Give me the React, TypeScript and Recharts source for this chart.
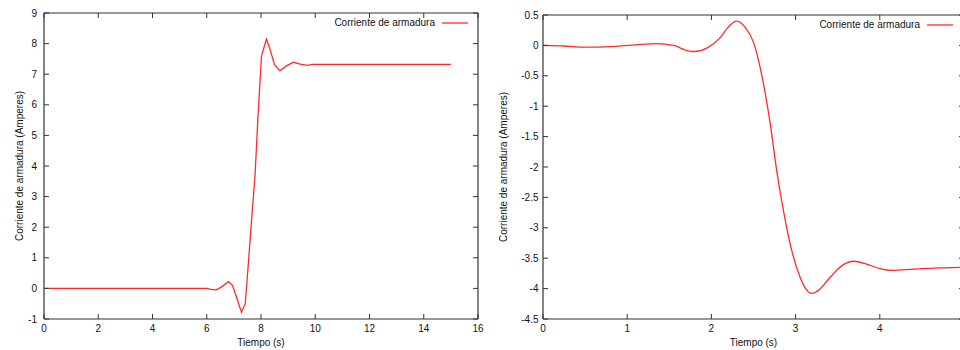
import React from 'react';
import { LineChart, Line, XAxis, YAxis, Legend, ReferenceLine } from 'recharts';

// left panel: step up of armature current
const leftT = [0, 5.6, 6.0, 6.15, 6.35, 6.55, 6.8, 6.95, 7.1, 7.28, 7.42, 7.55, 7.65, 7.78, 7.9, 8.02, 8.2, 8.32, 8.5, 8.7, 8.95, 9.2, 9.45, 9.7, 9.9, 15];
const leftI = [0, 0, 0, -0.03, -0.05, 0.05, 0.22, 0.1, -0.3, -0.78, -0.5, 1.0, 2.2, 3.7, 5.8, 7.6, 8.15, 7.85, 7.3, 7.11, 7.28, 7.39, 7.33, 7.29, 7.32, 7.32];
const leftXTicks = [0, 2, 4, 6, 8, 10, 12, 14, 16];
const leftYTicks = [-1, 0, 1, 2, 3, 4, 5, 6, 7, 8, 9];

// right panel: reversal (x = 5 falls just past the picture edge)
const rightT = [0, 0.25, 0.5, 0.8, 1.1, 1.35, 1.55, 1.7, 1.8, 1.95, 2.1, 2.2, 2.3, 2.4, 2.5, 2.6, 2.7, 2.78, 2.86, 2.95, 3.05, 3.12, 3.19, 3.28, 3.37, 3.5, 3.6, 3.69, 3.85, 4.0, 4.15, 4.4, 4.7, 5.0];
const rightI = [0, -0.01, -0.03, -0.02, 0.01, 0.03, 0.0, -0.08, -0.1, -0.04, 0.12, 0.3, 0.4, 0.3, 0.05, -0.5, -1.3, -2.1, -2.75, -3.35, -3.8, -4.0, -4.08, -4.02, -3.88, -3.68, -3.58, -3.55, -3.6, -3.67, -3.7, -3.68, -3.66, -3.65];
const rightXTicks = [0, 1, 2, 3, 4];
const rightYTicks = [-4.5, -4, -3.5, -3, -2.5, -2, -1.5, -1, -0.5, 0, 0.5];

const SERIES = 'Corriente de armadura';
const YLABEL = 'Corriente de armadura (Amperes)';
const XLABEL = 'Tiempo (s)';

const FONT = '"Liberation Sans", Arial, sans-serif';
const RED = '#ff2a2a';
const AXIS = '#333';
const TICK = 5;
const BOTTOM = 31; // x axis band height

// gnuplot-style inward ticks at the top end of a vertical reference line
const TopTick = (props: any) => {
  const { x1, y1, y2 } = props;
  const top = Math.min(y1, y2);
  return <line x1={x1} x2={x1} y1={top} y2={top + TICK} stroke={AXIS} strokeWidth={1} />;
};

// and at the right end of a horizontal one
const RightTick = (props: any) => {
  const { x1, x2, y1 } = props;
  const right = Math.max(x1, x2);
  return <line x1={right} x2={right - TICK} y1={y1} y2={y1} stroke={AXIS} strokeWidth={1} />;
};

const LegendBox = () => (
  <div style={{ display: 'flex', alignItems: 'center', fontFamily: FONT, fontSize: 10, color: '#111', lineHeight: '12px' }}>
    <span style={{ marginRight: 7 }}>{SERIES}</span>
    <svg width={26} height={4}>
      <line x1={0} y1={2} x2={26} y2={2} stroke={RED} strokeWidth={1.3} />
    </svg>
  </div>
);

interface PanelProps {
  data: { t: number; i: number }[];
  width: number;
  margin: { top: number; right: number; left: number };
  yAxisWidth: number;
  yLabelOffset: number;
  xDomain: [number, number];
  yDomain: [number, number];
  xTicks: number[];
  yTicks: number[];
  yTickMargin: number;
  legendTop: number;
  legendRight: number;
  curve: 'linear' | 'monotone';
}

const axisLine = { stroke: AXIS, strokeWidth: 1.2 };
const tickLine = { stroke: AXIS, strokeWidth: 1 };
const tickStyle = { fontSize: 10, fill: '#111', fontFamily: FONT };

const Panel: React.FC<PanelProps> = (p) => (
  <LineChart width={p.width} height={350} data={p.data} margin={{ ...p.margin, bottom: 0 }}>
    <XAxis
      type="number"
      dataKey="t"
      domain={p.xDomain}
      ticks={p.xTicks}
      interval={0}
      height={BOTTOM}
      tick={tickStyle}
      tickSize={-5}
      tickMargin={11}
      tickLine={tickLine}
      axisLine={axisLine}
      allowDataOverflow
      label={{ value: XLABEL, position: 'insideBottom', offset: 4.5, style: { fontSize: 10, fill: '#111', fontFamily: FONT } }}
    />
    <YAxis
      type="number"
      domain={p.yDomain}
      ticks={p.yTicks}
      interval={0}
      width={p.yAxisWidth}
      tick={tickStyle}
      tickSize={-5}
      tickMargin={p.yTickMargin}
      tickLine={tickLine}
      axisLine={axisLine}
      allowDataOverflow
      label={{
        value: YLABEL,
        angle: -90,
        position: 'insideLeft',
        offset: p.yLabelOffset,
        style: { fontSize: 10, fill: '#111', fontFamily: FONT, textAnchor: 'middle' },
      }}
    />
    {/* top and right sides of the frame */}
    <ReferenceLine y={p.yDomain[1]} stroke={AXIS} strokeWidth={1.2} />
    <ReferenceLine x={p.xDomain[1]} stroke={AXIS} strokeWidth={1.2} />
    {p.xTicks.map((t) => (
      <ReferenceLine key={`vx${t}`} x={t} shape={TopTick} />
    ))}
    {p.yTicks.map((v) => (
      <ReferenceLine key={`hy${v}`} y={v} shape={RightTick} />
    ))}
    <Legend
      layout="horizontal"
      verticalAlign="middle"
      align="center"
      content={LegendBox}
      wrapperStyle={{ top: p.legendTop, right: p.legendRight, left: 'auto', width: 'auto' }}
    />
    <Line
      type={p.curve}
      dataKey="i"
      name={SERIES}
      stroke={RED}
      strokeWidth={1.3}
      dot={false}
      isAnimationActive={false}
    />
  </LineChart>
);

const leftData = leftT.map((t, k) => ({ t, i: leftI[k] }));
const rightData = rightT.map((t, k) => ({ t, i: rightI[k] }));

export default function App() {
  return (
    <div style={{ position: 'absolute', left: 0, top: 0, width: 960, height: 350, overflow: 'hidden', background: '#fff' }}>
      <div style={{ position: 'absolute', left: 0, top: 0 }}>
        <Panel
          data={leftData}
          width={492}
          margin={{ top: 13, right: 14, left: 14 }}
          yAxisWidth={30}
          yLabelOffset={5}
          xDomain={[0, 16]}
          yDomain={[-1, 9]}
          xTicks={leftXTicks}
          yTicks={leftYTicks}
          yTickMargin={12}
          legendTop={17}
          legendRight={24}
          curve="linear"
        />
      </div>
      <div style={{ position: 'absolute', left: 480, top: 0 }}>
        <Panel
          data={rightData}
          width={490}
          margin={{ top: 15, right: 6, left: 13 }}
          yAxisWidth={50}
          yLabelOffset={10}
          xDomain={[0, 5]}
          yDomain={[-4.5, 0.5]}
          xTicks={rightXTicks}
          yTicks={rightYTicks}
          yTickMargin={9.5}
          legendTop={19}
          legendRight={17}
          curve="monotone"
        />
      </div>
    </div>
  );
}
